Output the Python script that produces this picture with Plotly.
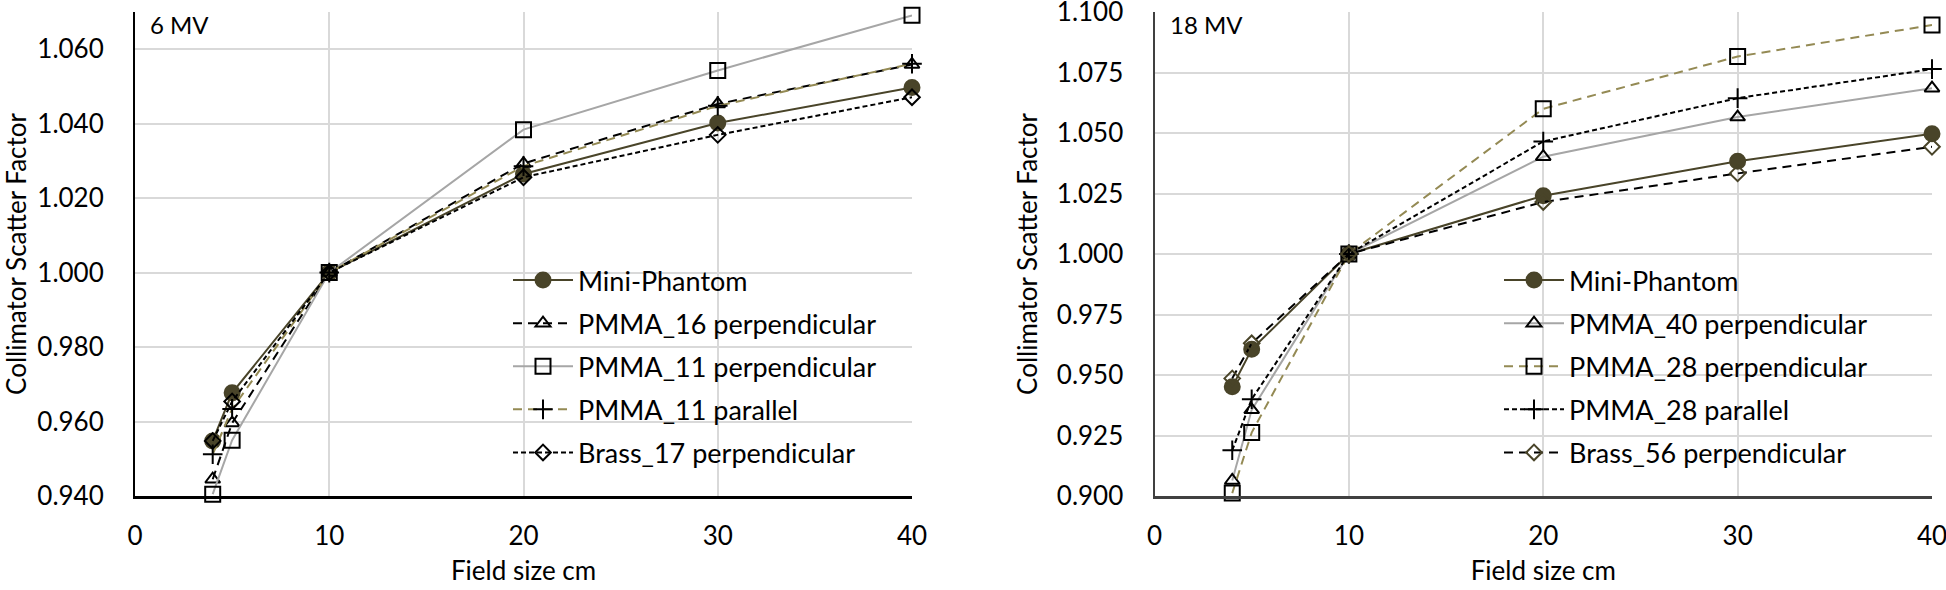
import plotly.graph_objects as go

field_size = [4, 5, 10, 20, 30, 40]

# 6 MV
mv6_mini_phantom = [0.9548, 0.9677, 1.000, 1.0265, 1.0402, 1.0497]
mv6_pmma16_perp = [0.9445, 0.9596, 1.000, 1.0293, 1.0453, 1.0559]
mv6_pmma11_perp = [0.9405, 0.9550, 1.000, 1.0384, 1.0543, 1.0691]
mv6_pmma11_par = [0.9512, 0.9634, 1.000, 1.0286, 1.0448, 1.0561]
mv6_brass17_perp = [0.9548, 0.9654, 1.000, 1.0256, 1.0370, 1.0471]

# 18 MV
mv18_mini_phantom = [0.9451, 0.9606, 1.000, 1.0241, 1.0383, 1.0497]
mv18_pmma40_perp = [0.9064, 0.9356, 1.000, 1.0402, 1.0566, 1.0685]
mv18_pmma28_perp = [0.9012, 0.9262, 1.000, 1.0600, 1.0816, 1.0946]
mv18_pmma28_par = [0.9189, 0.9400, 1.000, 1.0465, 1.0644, 1.0764]
mv18_brass56_perp = [0.9486, 0.9631, 1.000, 1.0215, 1.0333, 1.0443]

# tick values
x_ticks = [0, 10, 20, 30, 40]
y_ticks_6mv = [0.94, 0.96, 0.98, 1.00, 1.02, 1.04, 1.06]
y_ticks_18mv = [0.900, 0.925, 0.950, 0.975, 1.000, 1.025, 1.050, 1.075, 1.100]

DARK = "#494429"
OLIVE = "#948a54"
GRAY = "#a6a6a6"
BLACK = "#000000"
FONT = "Lato"

LONG_DASH = "9px,6px"
SHORT_DASH = "5px,3px"

fig = go.Figure()

def add(x, y, name, color, dash, symbol, msize, mcolor, mfill, xa, ya, legend, width=2):
    fig.add_trace(go.Scatter(
        x=x, y=y, name=name, mode="lines+markers",
        line=dict(color=color, dash=dash, width=width),
        marker=dict(symbol=symbol, size=msize, color=mfill,
                    line=dict(color=mcolor, width=2)),
        xaxis=xa, yaxis=ya, legend=legend, legendgroup=name + legend,
        cliponaxis=False,
    ))

# left chart
add(field_size, mv6_mini_phantom, "Mini-Phantom", DARK, "solid", "circle", 15, DARK, DARK, "x", "y", "legend")
add(field_size, mv6_pmma16_perp, "PMMA_16 perpendicular", BLACK, LONG_DASH, "triangle-up-open", 13, BLACK, BLACK, "x", "y", "legend")
add(field_size, mv6_pmma11_perp, "PMMA_11 perpendicular", GRAY, "solid", "square-open", 15, BLACK, BLACK, "x", "y", "legend")
add(field_size, mv6_pmma11_par, "PMMA_11 parallel", OLIVE, LONG_DASH, "cross-thin-open", 14, BLACK, BLACK, "x", "y", "legend")
add(field_size, mv6_brass17_perp, "Brass_17 perpendicular", BLACK, SHORT_DASH, "diamond-open", 12, BLACK, BLACK, "x", "y", "legend")

# right chart
add(field_size, mv18_mini_phantom, "Mini-Phantom", DARK, "solid", "circle", 15, DARK, DARK, "x2", "y2", "legend2")
add(field_size, mv18_pmma40_perp, "PMMA_40 perpendicular", GRAY, "solid", "triangle-up-open", 13, BLACK, BLACK, "x2", "y2", "legend2")
add(field_size, mv18_pmma28_perp, "PMMA_28 perpendicular", OLIVE, LONG_DASH, "square-open", 15, BLACK, BLACK, "x2", "y2", "legend2")
add(field_size, mv18_pmma28_par, "PMMA_28 parallel", BLACK, SHORT_DASH, "cross-thin-open", 14, BLACK, BLACK, "x2", "y2", "legend2")
add(field_size, mv18_brass56_perp, "Brass_56 perpendicular", BLACK, LONG_DASH, "diamond-open", 12, DARK, DARK, "x2", "y2", "legend2")

W, H = 1946, 590
TOP, BOT = 12, 496
L0, L1 = 135 / W, 912 / W
R0, R1 = 1154.5 / W, 1932 / W

def py(pix):
    return (BOT - pix) / (BOT - TOP)

tickfont = dict(family=FONT, size=26, color="#000000")
titlefont = dict(family=FONT, size=26, color="#000000")

common_x = dict(range=[0, 40], tickvals=x_ticks, showgrid=True, gridcolor="#d9d9d9",
                gridwidth=1.5, zeroline=False, showline=True, linewidth=2.5,
                tickfont=tickfont, ticks="", ticklabelstandoff=15, automargin=False,
                ticklabeloverflow="allow",
                title=dict(text="Field size cm", font=titlefont, standoff=12))
common_y = dict(showgrid=True, gridcolor="#d9d9d9", gridwidth=1.5, zeroline=False,
                showline=True, linewidth=2, tickformat=".3f", tickfont=tickfont,
                ticks="", ticklabelstandoff=24, automargin=False,
                ticklabeloverflow="allow",
                title=dict(text="Collimator Scatter Factor", font=titlefont, standoff=12))

legend_common = dict(xanchor="left", y=py(256), yanchor="top",
                     bgcolor="rgba(0,0,0,0)",
                     font=dict(family=FONT, size=27, color="#000000"),
                     itemwidth=60, tracegroupgap=5)

fig.update_layout(
    width=W, height=H,
    paper_bgcolor="white", plot_bgcolor="white",
    margin=dict(l=0, r=0, t=TOP, b=H - BOT, autoexpand=False),
    font=dict(family=FONT, color="#000000"),
    xaxis=dict(domain=[L0, L1], anchor="y", linecolor="#000000", **common_x),
    yaxis=dict(domain=[0, 1], anchor="x", range=[0.94, 1.07], tickvals=y_ticks_6mv,
               linecolor="#000000", **common_y),
    xaxis2=dict(domain=[R0, R1], anchor="y2", linecolor="#404040", **common_x),
    yaxis2=dict(domain=[0, 1], anchor="x2", range=[0.9, 1.1], tickvals=y_ticks_18mv,
                linecolor="#404040", **common_y),
    legend=dict(x=508 / W, **legend_common),
    legend2=dict(x=1499 / W, **legend_common),
    annotations=[
        dict(text="6 MV", x=148 / W, y=py(25), xref="paper", yref="paper", showarrow=False,
             xanchor="left", yanchor="middle", font=dict(family=FONT, size=24)),
        dict(text="18 MV", x=1168 / W, y=py(25), xref="paper", yref="paper", showarrow=False,
             xanchor="left", yanchor="middle", font=dict(family=FONT, size=24)),
    ],
)

fig.write_html(
    "out.html",
    config={"displayModeBar": False},
    post_script="document.body.style.margin='0';document.body.style.overflow='hidden';",
)
